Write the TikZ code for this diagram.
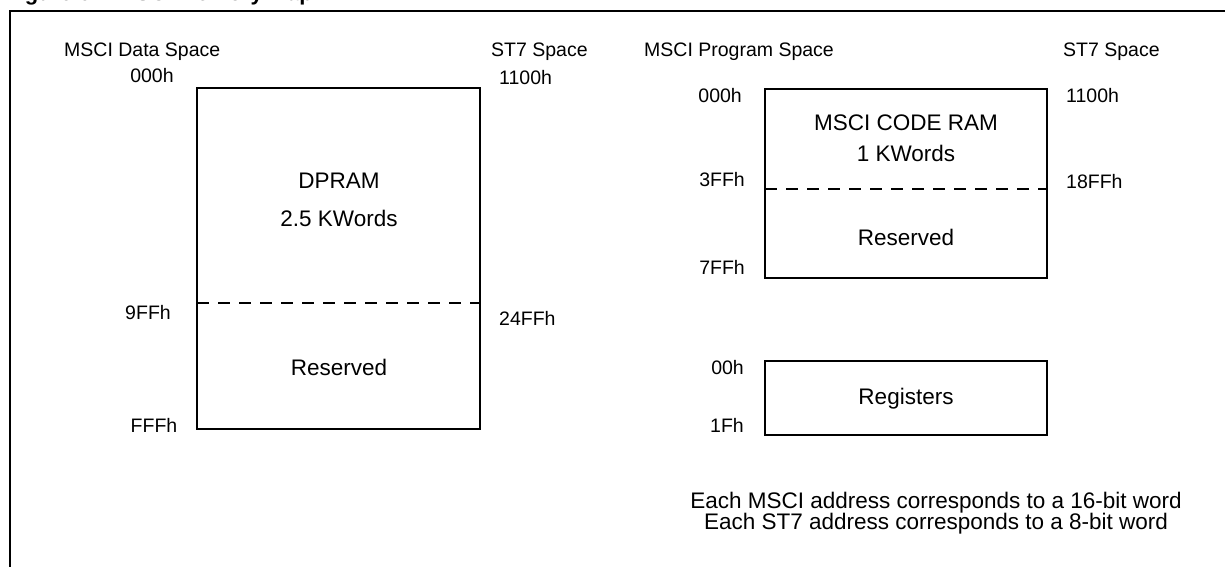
\documentclass[tikz,border=0pt]{standalone}
\usepackage{fontspec}
\setmainfont{Liberation Sans}
\begin{document}
\begin{tikzpicture}[x=1pt,y=-1pt,
  lbl/.style={inner sep=0pt,font=\fontsize{19.5}{23}\selectfont},
  txt/.style={inner sep=0pt,font=\fontsize{22.5}{26}\selectfont,align=center},
  mem/.style={draw,line width=2pt},
  sep/.style={dash pattern=on 12pt off 9pt,line width=1.6pt}]
\useasboundingbox (0,0) rectangle (1225,567);
\begin{scope}
\clip (0,0) rectangle (1225,567);
\node[anchor=base west,inner sep=0pt,font=\bfseries\fontsize{22}{26}\selectfont] (title) at (5,1) {Figure 61. MSCI Memory Map};
\draw[line width=2pt] (10,600) -- (10,11) -- (1240,11);
\end{scope}
% left panel
\node[lbl,anchor=west] (hdA) at (64,52) {MSCI Data Space};
\node[lbl,anchor=west] (hdB) at (491,52) {ST7 Space};
\coordinate (dA) at (197,88);
\coordinate (dB) at (480,429);
\draw[mem] (dA) rectangle (dB);
\coordinate (dsl) at (197,303);
\coordinate (dsr) at (480,303);
\draw[sep] (dsl) -- (dsr);
\node[txt] (dpram) at (339,181) {DPRAM};
\node[txt] (dpk) at (339,218) {2.5 KWords};
\node[txt] (res1) at (339,367) {Reserved};
\node[lbl] (a1) at (152,76) {000h};
\node[lbl] (a2) at (148,313) {9FFh};
\node[lbl] (a3) at (154,425) {FFFh};
\node[lbl,anchor=west] (b1) at (499,78) {1100h};
\node[lbl,anchor=west] (b2) at (499,318) {24FFh};
% right panel
\node[lbl,anchor=west] (hdC) at (644,52) {MSCI Program Space};
\node[lbl,anchor=west] (hdD) at (1063,52) {ST7 Space};
\coordinate (cA) at (765,89);
\coordinate (cB) at (1047,278);
\draw[mem] (cA) rectangle (cB);
\coordinate (csl) at (765,189);
\coordinate (csr) at (1047,189);
\draw[sep] (csl) -- (csr);
\node[txt] (code) at (906,123) {MSCI CODE RAM};
\node[txt] (codek) at (906,153) {1 KWords};
\node[txt] (res2) at (906,237) {Reserved};
\coordinate (rA) at (765,361);
\coordinate (rB) at (1047,435);
\draw[mem] (rA) rectangle (rB);
\node[txt] (regs) at (906,399) {Registers};
\node[lbl,anchor=east] (c1) at (742,96) {000h};
\node[lbl,anchor=east] (c2) at (745,180) {3FFh};
\node[lbl,anchor=east] (c3) at (745,267) {7FFh};
\node[lbl,anchor=east] (c4) at (744,368) {00h};
\node[lbl,anchor=east] (c5) at (744,425) {1Fh};
\node[lbl,anchor=west] (e1) at (1066,96) {1100h};
\node[lbl,anchor=west] (e2) at (1066,182) {18FFh};
\node[txt] (note1) at (936,503) {Each MSCI address corresponds to a 16-bit word};
\node[txt] (note2) at (936,524) {Each ST7 address corresponds to a 8-bit word};
\end{tikzpicture}
\end{document}
